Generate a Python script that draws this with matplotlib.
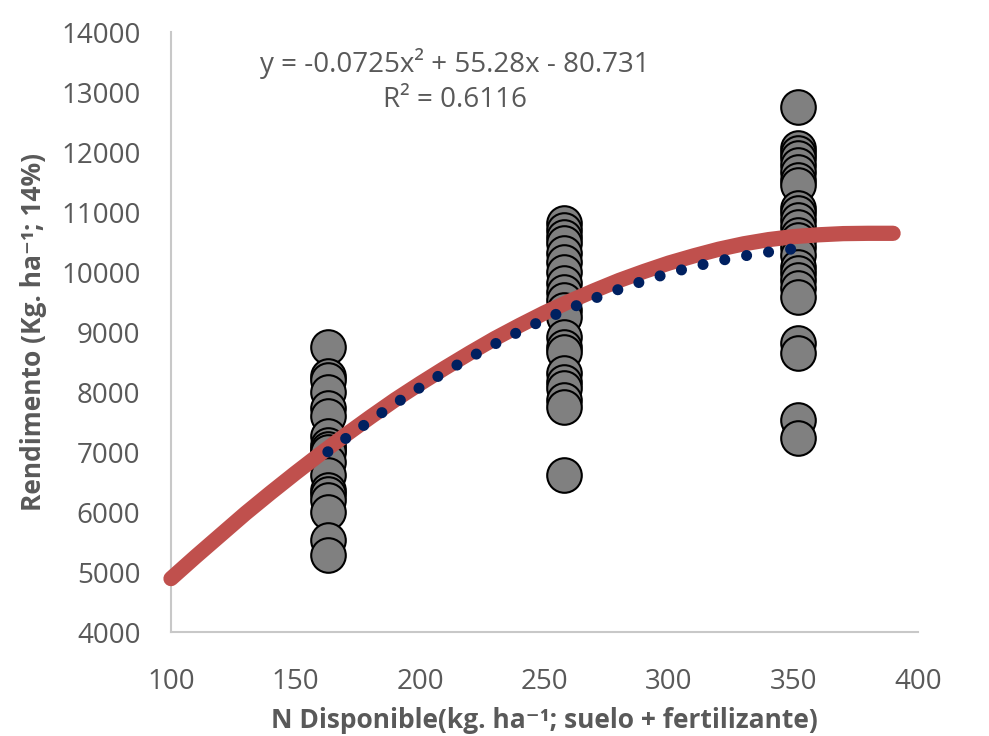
import matplotlib
matplotlib.use("Agg")
import matplotlib.pyplot as plt
import numpy as np

plt.rcParams['font.family'] = ['Open Sans', 'DejaVu Sans']

# measured yield at each level of available N
x_low = 163
y_low = [8750, 8270, 8200, 8000, 7730, 7600, 7270, 7120, 7050, 7000, 6830,
         6620, 6370, 6300, 6200, 6000, 5530, 5280]
x_mid = 258
y_mid = [10817, 10700, 10583, 10483, 10317, 10167, 10000, 9817, 9667, 9533,
         9367, 9250, 8917, 8750, 8667, 8317, 8167, 8067, 7867, 7750, 6617]
x_high = 352
y_high = [12750, 12067, 11983, 11900, 11783, 11667, 11533, 11450, 11067,
          10983, 10867, 10750, 10617, 10533, 10417, 10283, 10083, 9983,
          9867, 9733, 9583, 8817, 8650, 7533, 7233]

# response curve (red)
curve_x = [100, 110, 120, 130, 140, 150, 160, 170, 180, 190, 200, 210, 220, 230,
           240, 250, 260, 270, 280, 290, 300, 310, 320, 330, 340, 350, 360, 370,
           380, 390]
curve_y = [4890, 5260, 5620, 5980, 6320, 6650, 6970, 7280, 7580, 7870, 8140,
           8400, 8650, 8890, 9110, 9320, 9510, 9690, 9860, 10010, 10150, 10270,
           10380, 10470, 10540, 10590, 10620, 10640, 10645, 10645]

# excel trendline shown on chart
trend_coef = [-0.0725, 55.28, -80.731]
trend_label = "y = -0.0725x\u00b2 + 55.28x - 80.731\nR\u00b2 = 0.6116"

xticks = [100, 150, 200, 250, 300, 350, 400]
yticks = list(range(4000, 14001, 1000))

grey = '#595959'

fig = plt.figure(figsize=(9.89, 7.36), dpi=100)
ax = fig.add_axes([0.1729, 0.1413, 0.7553, 0.8152])

xs = [x_low] * len(y_low) + [x_mid] * len(y_mid) + [x_high] * len(y_high)
ys = y_low + y_mid + y_high
ax.scatter(xs, ys, s=620, c='#808080', edgecolors='black', linewidths=1.5, zorder=2)

ax.plot(curve_x, curve_y, color='#C0504D', lw=11, solid_capstyle='round',
        solid_joinstyle='round', zorder=3, clip_on=False)

tx = np.linspace(x_low, x_high, 200)
ax.plot(tx, np.polyval(trend_coef, tx), color='#002060', lw=8,
        linestyle=(0, (0.001, 2.0)), dash_capstyle='round', zorder=4)

ax.text(214, 13180, trend_label, ha='center', va='center', fontsize=20,
        color=grey, linespacing=1.35)

ax.set_xlim(100, 400)
ax.set_ylim(4000, 14000)
ax.set_xticks(xticks)
ax.set_yticks(yticks)
ax.tick_params(length=0, labelsize=20, labelcolor=grey)
ax.tick_params(axis='y', pad=22)
ax.tick_params(axis='x', pad=26)

for s in ['top', 'right']:
    ax.spines[s].set_visible(False)
for s in ['left', 'bottom']:
    ax.spines[s].set_color('#c8c8c8')
    ax.spines[s].set_linewidth(1.5)

ax.set_xlabel("N Disponible(kg. ha\u207b\u00b9; suelo + fertilizante)", fontsize=19,
              fontweight='bold', color=grey, labelpad=8)
ax.set_ylabel("Rendimento (Kg. ha\u207b\u00b9; 14%)", fontsize=19,
              fontweight='bold', color=grey, labelpad=10)

fig.savefig('out.png', dpi=100)
